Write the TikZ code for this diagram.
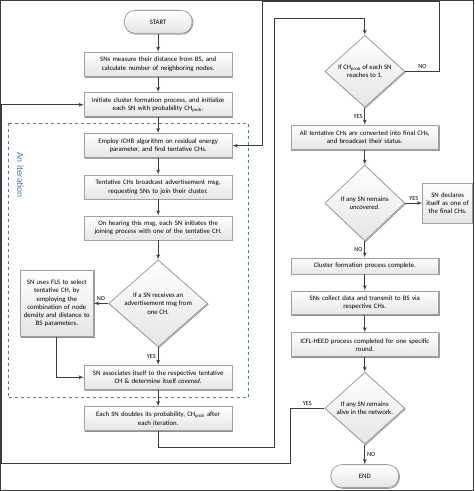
\documentclass[tikz,border=0pt]{standalone}
\usepackage{fontspec}
\setmainfont{Carlito}
\usetikzlibrary{arrows,calc,positioning,shapes.geometric,shadows}
\definecolor{boxline}{RGB}{160,160,160}
\definecolor{conn}{RGB}{60,60,60}
\definecolor{iterblue}{RGB}{70,125,190}
\tikzstyle{int}=[draw=boxline,top color=white,bottom color=gray!20,drop shadow={shadow xshift=0.8pt,shadow yshift=-0.8pt,fill=gray!40},text centered,text width=146pt,minimum height=24pt,inner sep=1pt,font=\fontsize{6.8}{8.3}\selectfont]
\tikzstyle{dec}=[diamond,draw=boxline,top color=white,bottom color=gray!20,drop shadow={shadow xshift=0.8pt,shadow yshift=-0.8pt,fill=gray!40},align=center,inner sep=0pt,aspect=1.1,minimum width=80pt,minimum height=72pt,font=\fontsize{6.8}{8.3}\selectfont]
\tikzstyle{term}=[rectangle,rounded corners=11pt,draw=boxline,top color=white,bottom color=gray!20,drop shadow={shadow xshift=0.8pt,shadow yshift=-0.8pt,fill=gray!40},minimum width=68pt,minimum height=23pt,font=\fontsize{6.8}{8.3}\selectfont]
\tikzstyle{lbl}=[font=\fontsize{6.2}{7}\selectfont,inner sep=2pt]

\begin{document}
\begin{tikzpicture}[
      x=1pt,y=1pt,
      >=latex',
      every path/.style={draw=conn,line width=0.8pt}
    ]
      \useasboundingbox (0,0) rectangle (474,-491);

      % left column
      \node [term] (start) at (158,-21.5) {START};
      \node [int] (kp1) [node distance=42.5pt,below of=start] {SNs measure their distance from BS, and\\ calculate number of neighboring nodes.};
      \node [int] (kp2) [node distance=40.5pt,below of=kp1] {Initiate cluster formation process, and initialize\\ each SN with probability CH\textsubscript{prob}.};
      \node [int] (kp3) [node distance=41pt,below of=kp2] {Employ ICHB algorithm on residual energy\\ parameter, and find tentative CHs.};
      \node [int] (kp4) [node distance=41.5pt,below of=kp3] {Tentative CHs broadcast advertisement msg,\\ requesting SNs to join their cluster.};
      \node [int] (kp5) [node distance=41pt,below of=kp4] {On hearing this msg, each SN initiates the\\ joining process with one of the tentative CH.};
      \node [dec,aspect=1.15,minimum width=99pt,minimum height=87pt] (dec1) [node distance=75.5pt,below of=kp5] {If a SN receives an\\ advertisement msg from\\ one CH.};
      \node [int,text width=71pt,minimum height=67pt] (fls) [node distance=101.5pt,left of=dec1] {SN uses FLS to select\\ tentative CH, by\\ employing the\\ combination of node\\ density and distance to\\ BS parameters.};
      \node [int] (kp6) [node distance=74pt,below of=dec1] {SN associates itself to the respective tentative\\ CH \& determine itself \textit{covered}.};
      \node [int] (kp7) [node distance=41.5pt,below of=kp6] {Each SN doubles its probability, CH\textsubscript{prob} after\\ each iteration.};

      % iteration frame
      \draw [draw=iterblue,line width=0.7pt,dashed] (8,-123) rectangle (248,-398);
      \node [rotate=-90,text=iterblue,font=\fontsize{9.5}{10}\selectfont] (iter) at (20,-175) {An iteration};

      % right column
      \node [dec] (dec2) at (365,-71) {If CH\textsubscript{prob} of each SN\\ reaches to 1.};
      \node [int] (r1) [node distance=66pt,below of=dec2] {All tentative CHs are converted into final CHs,\\ and broadcast their status.};
      \node [dec,minimum height=76pt] (dec3) [node distance=66pt,below of=r1] {If any SN remains\\ \textit{uncovered}.};
      \node [int,text width=48pt,minimum height=40pt] (decl) [node distance=83pt,right of=dec3] {SN declares itself as one of the final CHs.};
      \node [int,minimum height=16pt] (r2) [node distance=63pt,below of=dec3] {Cluster formation process complete.};
      \node [int] (r3) [node distance=37pt,below of=r2] {SNs collect data and transmit to BS via\\ respective CHs.};
      \node [int] (r4) [node distance=42pt,below of=r3] {ICFL-HEED process completed for one specific\\ round.};
      \node [dec] (dec4) [node distance=63.5pt,below of=r4] {If any SN remains\\ alive in the network.};
      \node [term] (end) [node distance=68pt,below of=dec4] {END};

      \coordinate (loopa) at (274,-18);
      \coordinate (noa) at (440,-1.5);
      \coordinate (nob) at (262,-1.5);
      \coordinate (ya) at (290,-464);
      \coordinate (yb) at (1.5,-464);

      \draw[->] (start) -- (kp1);
      \draw[->] (kp1) -- (kp2);
      \draw[->] (kp2) -- (kp3);
      \draw[->] (kp3) -- (kp4);
      \draw[->] (kp4) -- (kp5);
      \draw[->] (kp5) -- (dec1);
      \draw[->] (dec1) -- node[lbl,above] {NO} (fls);
      \draw[->] (dec1) -- node[lbl,left] {YES} (kp6);
      \draw[->] (fls.south) |- (kp6.west);
      \draw[->] (kp6) -- (kp7);
      \draw[->] (kp7.south) -- ++(0,-16) -| (loopa) -| (dec2.north);
      \draw[->] (dec2.east) -| node[lbl,pos=0.25,above] {NO} (noa) -- (nob) |- (kp3.east);
      \draw[->] (dec2) -- node[lbl,left] {YES} (r1);
      \draw[->] (r1) -- (dec3);
      \draw[->] (dec3) -- node[lbl,above] {YES} (decl);
      \draw[->] (dec3) -- node[lbl,left] {NO} (r2);
      \draw[->] (r2) -- (r3);
      \draw[->] (r3) -- (r4);
      \draw[->] (r4) -- (dec4);
      \draw[->] (dec4) -- node[lbl,right] {NO} (end);
      \draw[->] (dec4.west) -| node[lbl,pos=0.25,above] {YES} (ya) -- (yb) |- (kp2.west);
\end{tikzpicture}
\end{document}
